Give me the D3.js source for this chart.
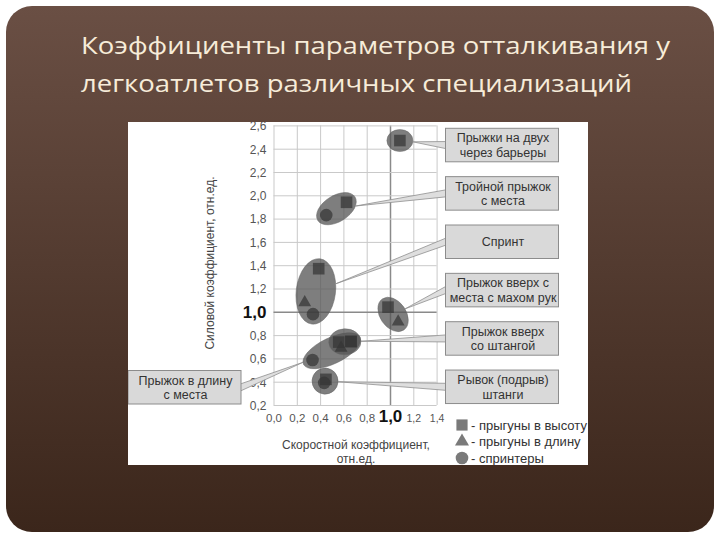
<!DOCTYPE html>
<html><head><meta charset="utf-8">
<script src="https://cdn.jsdelivr.net/npm/d3@7"></script>
<style>
html,body{margin:0;padding:0;background:#fff;}
svg{display:block;}
</style>
</head><body>
<svg id="c" width="720" height="540"></svg>
<script>
// ---- data ----
const titleLines = ["Коэффициенты параметров отталкивания у", "легкоатлетов различных специализаций"];
const xTicks = [0, 0.2, 0.4, 0.6, 0.8, 1.0, 1.2, 1.4];
const xTickLabels = ["0,0", "0,2", "0,4", "0,6", "0,8", "1,0", "1,2", "1,4"];
const yTicks = [0.2, 0.4, 0.6, 0.8, 1.0, 1.2, 1.4, 1.6, 1.8, 2.0, 2.2, 2.4, 2.6];
const yTickLabels = ["0,2", "0,4", "0,6", "0,8", "1,0", "1,2", "1,4", "1,6", "1,8", "2,0", "2,2", "2,4", "2,6"];
const xLabelLines = ["Скоростной коэффициент,", "отн.ед."];
const yLabel = "Силовой коэффициент, отн.ед.";

// groups (callout labels)
const groupLabels = [
  ["Прыжки на двух", "через барьеры"],
  ["Тройной прыжок", "с места"],
  ["Спринт"],
  ["Прыжок вверх с", "места с махом рук"],
  ["Прыжок вверх", "со штангой"],
  ["Рывок (подрыв)", "штанги"],
  ["Прыжок в длину", "с места"]
];
// series points: x (speed coef), y (force coef), group index
const jumpersHighX = [1.085, 0.627, 0.388, 0.983, 0.56, 0.665, 0.45, 0.665];
const jumpersHighY = [2.47, 1.94, 1.37, 1.04, 0.74, 0.745, 0.42, 0.745];
const jumpersHighG = [0, 1, 2, 3, 4, 4, 5, 6];
const jumpersLongX = [0.268, 1.07, 0.58];
const jumpersLongY = [1.08, 0.915, 0.69];
const jumpersLongG = [2, 3, 6];
const sprintersX = [0.453, 0.339, 0.435, 0.335];
const sprintersY = [1.83, 0.98, 0.39, 0.586];
const sprintersG = [1, 2, 5, 6];
const legendLabels = ["- прыгуны в высоту", "- прыгуны в длину", "- спринтеры"];

// ---- drawing ----
const svg = d3.select("#c");
const defs = svg.append("defs");
const grad = defs.append("linearGradient").attr("id", "bg").attr("x1", 0).attr("y1", 0).attr("x2", 0).attr("y2", 1);
grad.append("stop").attr("offset", "0%").attr("stop-color", "#6a4f44");
grad.append("stop").attr("offset", "100%").attr("stop-color", "#3b261b");

svg.append("rect").attr("x", 6).attr("y", 6).attr("width", 708).attr("height", 526)
  .attr("rx", 26).attr("ry", 26).attr("fill", "url(#bg)");

const tl = svg.append("g");
titleLines.forEach((t, i) => {
  tl.append("text").attr("x", 81).attr("y", 54 + i * 38)
    .attr("font-family", "'Open Sans', 'Noto Sans', sans-serif")
    .attr("font-size", 24).attr("fill", "#f7ecd9")
    .attr("textLength", i === 0 ? 589 : 551).attr("lengthAdjust", "spacingAndGlyphs")
    .text(t);
});

// chart image area
const img = {x: 128, y: 122, w: 460, h: 343};
defs.append("clipPath").attr("id", "imgclip").append("rect")
  .attr("x", img.x).attr("y", img.y).attr("width", img.w).attr("height", img.h);
const chart = svg.append("g").attr("clip-path", "url(#imgclip)");
chart.append("rect").attr("x", img.x).attr("y", img.y).attr("width", img.w).attr("height", img.h).attr("fill", "#fff");

const FONT = "'Liberation Sans', Arial, sans-serif";
const x = d3.scaleLinear().domain([0, 1.4]).range([273.5, 436.6]);
const y = d3.scaleLinear().domain([0.2, 2.6]).range([405, 125.4]);
const plotW = x.range()[1] - x.range()[0];
const plotH = y.range()[0] - y.range()[1];

// axes with grid
const gx = chart.append("g").attr("transform", `translate(0,${y(0.2)})`)
  .call(d3.axisBottom(x).tickValues(xTicks).tickSize(-plotH)
    .tickFormat((d, i) => xTickLabels[i]));
const gy = chart.append("g").attr("transform", `translate(${x(0)},0)`)
  .call(d3.axisLeft(y).tickValues(yTicks).tickSize(-plotW).tickPadding(7)
    .tickFormat((d, i) => yTickLabels[i]));
[gx, gy].forEach(g => {
  g.select(".domain").remove();
  g.selectAll(".tick line").attr("stroke", "#c9c9c9").attr("stroke-width", 1);
  g.selectAll(".tick text").attr("font-family", FONT).attr("fill", "#555").attr("font-size", 12);
  g.selectAll(".tick").filter(d => Math.abs(d - 1) < 1e-9).each(function() {
    const t = d3.select(this);
    t.select("line").attr("stroke", "#8a8a8a").attr("stroke-width", 1.5);
    t.select("text").attr("font-size", 17).attr("font-weight", "bold").attr("fill", "#111");
  });
});
gx.selectAll(".tick text").attr("y", 17).attr("dy", 0);
gx.selectAll(".tick").filter(d => d > 1.05).select("text").attr("font-size", 10.5);
gx.selectAll(".tick").filter(d => d < 0.95).select("text").attr("font-size", 11.5);
gy.selectAll(".tick text").attr("dy", "0.36em");

// axis titles
xLabelLines.forEach((t, i) => {
  chart.append("text").attr("x", 356).attr("y", 449 + i * 14).attr("text-anchor", "middle")
    .attr("font-family", FONT).attr("font-size", 12).attr("fill", "#444").text(t);
});
chart.append("text").attr("transform", "translate(214,263) rotate(-90)").attr("text-anchor", "middle")
  .attr("font-family", FONT).attr("font-size", 12).attr("fill", "#444").text(yLabel);

// collect points
const pts = [];
jumpersHighX.forEach((v, i) => pts.push({x: v, y: jumpersHighY[i], g: jumpersHighG[i], s: "sq"}));
jumpersLongX.forEach((v, i) => pts.push({x: v, y: jumpersLongY[i], g: jumpersLongG[i], s: "tri"}));
sprintersX.forEach((v, i) => pts.push({x: v, y: sprintersY[i], g: sprintersG[i], s: "cir"}));

// ellipses computed from group points
const PAD = 10, MINR = 13;
const ellipses = groupLabels.map((lab, gi) => {
  const p = pts.filter(d => d.g === gi).map(d => [x(d.x), y(d.y)]);
  let a = p[0], b = p[0], best = -1;
  p.forEach(u => p.forEach(v => {
    const dd = Math.hypot(u[0] - v[0], u[1] - v[1]);
    if (dd > best) { best = dd; a = u; b = v; }
  }));
  const cx = (a[0] + b[0]) / 2, cy = (a[1] + b[1]) / 2;
  const ang = best > 0 ? Math.atan2(b[1] - a[1], b[0] - a[0]) : 0;
  const ux = Math.cos(ang), uy = Math.sin(ang);
  let perp = 0;
  p.forEach(u => { perp = Math.max(perp, Math.abs((u[0] - cx) * uy - (u[1] - cy) * ux)); });
  const single = best === 0;
  return {gi, cx, cy, ang, rx: Math.max(best / 2 + PAD, MINR), ry: single ? MINR - 2 : Math.max(perp + PAD, MINR)};
});
const ellOrder = [6, 0, 1, 2, 3, 4, 5];
chart.append("g").selectAll("ellipse").data(ellOrder.map(i => ellipses[i])).join("ellipse")
  .attr("cx", d => d.cx).attr("cy", d => d.cy).attr("rx", d => d.rx).attr("ry", d => d.ry)
  .attr("transform", d => `rotate(${d.ang * 180 / Math.PI},${d.cx},${d.cy})`)
  .attr("fill", "#555").attr("fill-opacity", 0.76)
  .attr("stroke", "#666").attr("stroke-width", 0.8).attr("stroke-opacity", 0.6);

const symType = {sq: d3.symbolSquare, tri: d3.symbolTriangle, cir: d3.symbolCircle};
const symSize = {sq: 135, tri: 72, cir: 125};
chart.append("g").selectAll("path").data(pts).join("path")
  .attr("transform", d => `translate(${x(d.x)},${y(d.y)})`)
  .attr("d", d => d3.symbol(symType[d.s], symSize[d.s])())
  .attr("fill", "#353535").attr("fill-opacity", 0.72);

// callout boxes
const boxW = 113, boxH = 33.5;
const boxes = groupLabels.map((lab, gi) => gi < 6
  ? {gi, x: 445.5, y: 128.3 + gi * 48.35, side: "left"}
  : {gi, x: 128, y: 370.5, side: "right"});
function ellipseEdge(e, tx, ty) {
  const dx = tx - e.cx, dy = ty - e.cy;
  const c = Math.cos(-e.ang), s = Math.sin(-e.ang);
  const lx = dx * c - dy * s, ly = dx * s + dy * c;
  const k = 1 / Math.sqrt((lx * lx) / (e.rx * e.rx) + (ly * ly) / (e.ry * e.ry));
  return [e.cx + dx * k, e.cy + dy * k];
}
const callouts = chart.append("g");
boxes.forEach(b => {
  const e = ellipses[b.gi];
  const bx = b.side === "left" ? b.x : b.x + boxW;
  const by = b.y + boxH / 2;
  const tip = ellipseEdge(e, bx, by);
  callouts.append("path")
    .attr("d", `M${bx},${by - 3.5}L${tip[0]},${tip[1]}L${bx},${by + 3.5}`)
    .attr("fill", "#dedede").attr("stroke", "#8f8f8f").attr("stroke-width", 0.8);
});
boxes.forEach(b => {
  const cid = "bc" + b.gi;
  defs.append("clipPath").attr("id", cid).append("rect")
    .attr("x", b.x).attr("y", b.y).attr("width", boxW).attr("height", boxH);
  callouts.append("rect").attr("x", b.x).attr("y", b.y).attr("width", boxW).attr("height", boxH)
    .attr("fill", "#d9d9d9").attr("stroke", "#8c8c8c").attr("stroke-width", 1);
  const lines = groupLabels[b.gi];
  const tg = callouts.append("g").attr("clip-path", `url(#${cid})`);
  lines.forEach((t, i) => {
    tg.append("text").attr("x", b.x + boxW / 2 + 1)
      .attr("y", b.y + boxH / 2 + 4.5 + (i - (lines.length - 1) / 2) * 14.5)
      .attr("text-anchor", "middle").attr("font-family", FONT).attr("font-size", 12.5)
      .attr("fill", "#333").text(t);
  });
});

// legend
const legSyms = ["sq", "tri", "cir"];
const lg = chart.append("g");
legendLabels.forEach((t, i) => {
  const ly = 425 + i * 16.5;
  lg.append("path").attr("transform", `translate(462,${ly})`)
    .attr("d", d3.symbol(symType[legSyms[i]], legSyms[i] === "tri" ? 85 : 125)())
    .attr("fill", "#7a7a7a");
  lg.append("text").attr("x", 471).attr("y", ly + 4.5).attr("font-family", FONT)
    .attr("font-size", 13).attr("fill", "#333").text(t);
});
</script>
</body></html>
